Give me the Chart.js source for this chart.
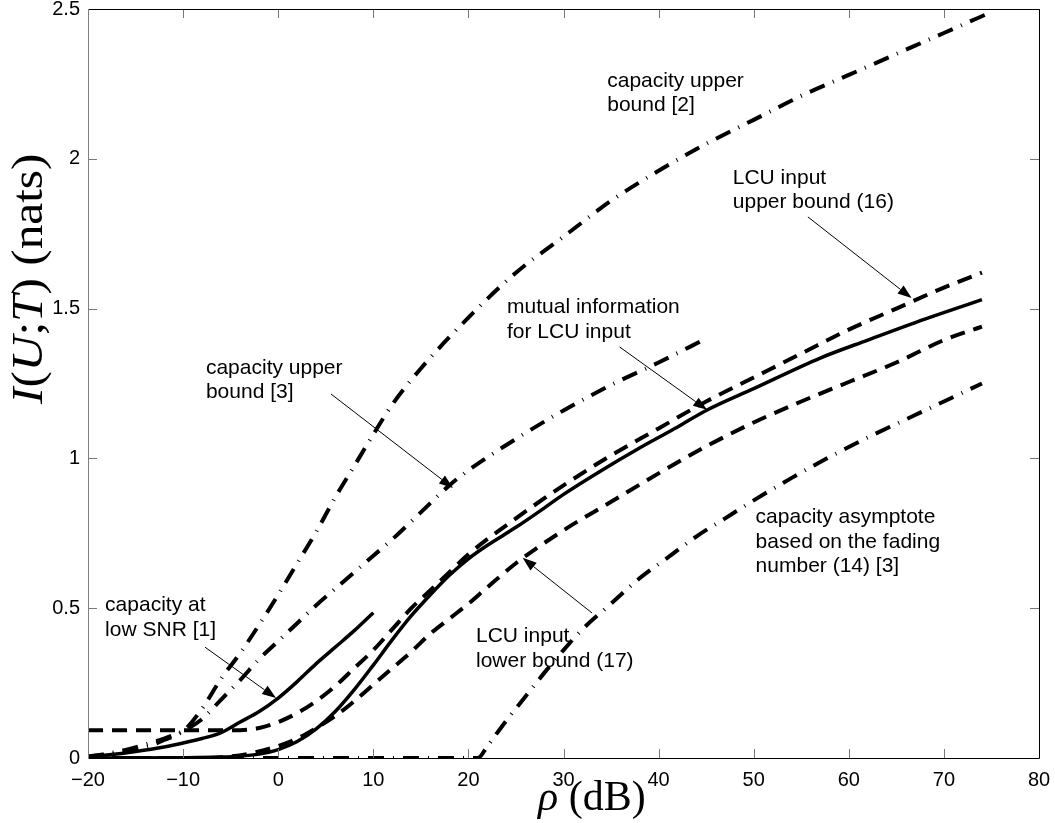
<!DOCTYPE html>
<html>
<head>
<meta charset="utf-8">
<script src="https://cdn.jsdelivr.net/npm/chart.js@4.4.0/dist/chart.umd.min.js"></script>
<style>
  html, body { margin: 0; padding: 0; background: #fff; }
  #wrap { width: 1055px; height: 823px; }
</style>
</head>
<body>
<div id="wrap"><canvas id="chart"></canvas></div>
<script>
// axis ticks
const xTicks = [-20, -10, 0, 10, 20, 30, 40, 50, 60, 70, 80];
const yTicks = [0, 0.5, 1, 1.5, 2, 2.5];

// capacity upper bound [2]
const capUb2X = [-20, -17, -14, -12, -10, -8, -6, -4, -2, 0, 2, 4, 6, 8, 10, 12, 15, 20, 25, 30, 35, 40, 45, 50, 55, 60, 65, 70, 75];
const capUb2Y = [0.005, 0.015, 0.035, 0.06, 0.09, 0.165, 0.265, 0.35, 0.445, 0.545, 0.65, 0.755, 0.87, 0.975, 1.08, 1.18, 1.30, 1.47, 1.62, 1.74, 1.86, 1.96, 2.05, 2.13, 2.21, 2.28, 2.35, 2.42, 2.49];

// capacity upper bound [3]
const capUb3X = [-20, -17, -14, -12, -10, -8, -6, -4, -2, 0, 2, 4, 6, 8, 10, 12, 15, 18, 20, 25, 30, 35, 40, 45];
const capUb3Y = [0.005, 0.02, 0.045, 0.065, 0.09, 0.13, 0.195, 0.26, 0.33, 0.39, 0.45, 0.51, 0.565, 0.62, 0.675, 0.73, 0.82, 0.91, 0.96, 1.065, 1.16, 1.245, 1.32, 1.40];

// LCU input upper bound (16)
const lcuUbX = [-20, -10, -4, -2, 0, 2, 4, 6, 8, 10, 12, 14, 16, 18, 20, 25, 30, 35, 40, 45, 50, 55, 60, 65, 70, 74];
const lcuUbY = [0.093, 0.093, 0.093, 0.10, 0.12, 0.15, 0.19, 0.24, 0.30, 0.36, 0.43, 0.50, 0.56, 0.62, 0.68, 0.80, 0.91, 1.01, 1.10, 1.19, 1.27, 1.35, 1.43, 1.50, 1.57, 1.62];

// mutual information for LCU input
const mutInfoX = [-20, -10, -6, -4, -2, 0, 2, 4, 6, 8, 10, 12, 14, 16, 18, 20, 22, 25, 28, 30, 34, 38, 42, 45, 50, 57, 62, 68, 74];
const mutInfoY = [0, 0.001, 0.003, 0.006, 0.013, 0.028, 0.055, 0.097, 0.155, 0.228, 0.31, 0.395, 0.475, 0.545, 0.61, 0.665, 0.71, 0.77, 0.835, 0.88, 0.96, 1.035, 1.105, 1.16, 1.233, 1.335, 1.395, 1.465, 1.53];

// LCU input lower bound (17)
const lcuLbX = [-20, -8, -5, -3, 0, 2, 4, 6, 8, 10, 12, 14, 16, 18, 20, 22, 25, 30, 35, 40, 45, 50, 55, 60, 65, 70, 74];
const lcuLbY = [0, 0, 0.005, 0.015, 0.04, 0.065, 0.10, 0.14, 0.19, 0.245, 0.30, 0.355, 0.415, 0.465, 0.515, 0.57, 0.65, 0.76, 0.855, 0.95, 1.04, 1.12, 1.19, 1.255, 1.32, 1.395, 1.44];

// capacity at low SNR [1]
const lowSnrX = [-20, -18, -15, -12, -10, -8, -6, -4, -2, 0, 2, 4, 6, 8, 10];
const lowSnrY = [0.004, 0.01, 0.022, 0.037, 0.05, 0.065, 0.085, 0.12, 0.155, 0.20, 0.255, 0.315, 0.37, 0.425, 0.485];

// capacity asymptote based on the fading number (14) [3]
const asymX = [-20, 21, 22, 24, 26, 28, 30, 32, 35, 38, 41, 44, 47, 50, 54, 58, 62, 66, 70, 74];
const asymY = [0, 0, 0.04, 0.125, 0.205, 0.285, 0.36, 0.43, 0.515, 0.60, 0.67, 0.74, 0.80, 0.86, 0.935, 1.005, 1.07, 1.13, 1.19, 1.25];

// text notes: lines, anchor (data coords, first baseline)
const notes = [
  { lines: ['capacity upper', 'bound [2]'], x: 34.6, y: 2.24 },
  { lines: ['LCU input', 'upper bound (16)'], x: 47.8, y: 1.916 },
  { lines: ['mutual information', 'for LCU input'], x: 24.06, y: 1.485 },
  { lines: ['capacity upper', 'bound [3]'], x: -7.6, y: 1.282 },
  { lines: ['capacity at', 'low SNR [1]'], x: -18.2, y: 0.49 },
  { lines: ['LCU input', 'lower bound (17)'], x: 20.8, y: 0.387 },
  { lines: ['capacity asymptote', 'based on the fading', 'number (14) [3]'], x: 50.2, y: 0.784 }
];

// arrows: from -> to (data coords)
const arrows = [
  [55.7, 1.806, 66.6, 1.535],
  [35.9, 1.372, 45.1, 1.162],
  [5.55, 1.215, 18.38, 0.901],
  [-7.7, 0.37, -0.23, 0.20],
  [33.0, 0.484, 25.7, 0.668]
];

const pts = (xs, ys) => xs.map((x, i) => ({ x: x, y: ys[i] }));

const DASHDOT = [16, 9, 1, 9];
const DASHED = [15, 9];

function series(label, xs, ys, dash, width) {
  return {
    label: label,
    data: pts(xs, ys),
    showLine: true,
    borderColor: '#000',
    borderWidth: width,
    borderDash: dash,
    borderCapStyle: 'butt',
    pointRadius: 0,
    cubicInterpolationMode: 'monotone',
    fill: false
  };
}

const SANS = '"Liberation Sans", Arial, Helvetica, sans-serif';
const SERIF = '"Liberation Serif", "Times New Roman", serif';

const decorPlugin = {
  id: 'decor',
  afterDatasetsDraw(chart) {
    const ctx = chart.ctx;
    const xs = chart.scales.x, ys = chart.scales.y;
    const a = chart.chartArea;
    ctx.save();

    // inward ticks
    ctx.strokeStyle = '#777';
    ctx.lineWidth = 1;
    ctx.beginPath();
    xTicks.forEach(v => {
      const px = Math.round(xs.getPixelForValue(v)) + 0.5;
      ctx.moveTo(px, a.bottom); ctx.lineTo(px, a.bottom - 9);
      ctx.moveTo(px, a.top); ctx.lineTo(px, a.top + 9);
    });
    yTicks.forEach(v => {
      const py = Math.round(ys.getPixelForValue(v)) + 0.5;
      ctx.moveTo(a.left, py); ctx.lineTo(a.left + 9, py);
      ctx.moveTo(a.right, py); ctx.lineTo(a.right - 9, py);
    });
    ctx.stroke();

    // box
    ctx.strokeStyle = '#000';
    ctx.beginPath();
    ctx.moveTo(a.left, a.top + 0.5); ctx.lineTo(a.right + 0.5, a.top + 0.5);
    ctx.lineTo(a.right + 0.5, a.bottom + 0.5); ctx.lineTo(a.left, a.bottom + 0.5);
    ctx.stroke();
    ctx.strokeStyle = '#808080';
    ctx.beginPath();
    ctx.moveTo(a.left + 0.5, a.top); ctx.lineTo(a.left + 0.5, a.bottom + 1);
    ctx.stroke();

    // notes
    ctx.fillStyle = '#000';
    ctx.font = '21px ' + SANS;
    ctx.textAlign = 'left';
    ctx.textBaseline = 'alphabetic';
    notes.forEach(n => {
      const px = xs.getPixelForValue(n.x), py = ys.getPixelForValue(n.y);
      n.lines.forEach((t, i) => ctx.fillText(t, px, py + i * 24.5));
    });

    // arrows
    ctx.strokeStyle = '#000';
    ctx.lineWidth = 1;
    arrows.forEach(r => {
      const x1 = xs.getPixelForValue(r[0]), y1 = ys.getPixelForValue(r[1]);
      const x2 = xs.getPixelForValue(r[2]), y2 = ys.getPixelForValue(r[3]);
      const ang = Math.atan2(y2 - y1, x2 - x1);
      const L = 14, W = 5;
      const bx = x2 - L * Math.cos(ang), by = y2 - L * Math.sin(ang);
      ctx.beginPath();
      ctx.moveTo(x1, y1); ctx.lineTo(bx, by);
      ctx.stroke();
      ctx.beginPath();
      ctx.moveTo(x2, y2);
      ctx.lineTo(bx + W * Math.sin(ang), by - W * Math.cos(ang));
      ctx.lineTo(bx - W * Math.sin(ang), by + W * Math.cos(ang));
      ctx.closePath();
      ctx.fill();
    });

    // axis titles with mixed italic / upright pieces
    const drawPieces = (pieces, size) => {
      let off = 0;
      pieces.forEach(p => {
        ctx.font = (p[1] ? 'italic ' : '') + size + 'px ' + SERIF;
        ctx.fillText(p[0], off, 0);
        off += ctx.measureText(p[0]).width;
      });
    };
    ctx.save();
    ctx.translate(538, 810);
    drawPieces([['\u03C1', true], [' (dB)', false]], 42);
    ctx.restore();

    ctx.save();
    ctx.translate(42, 404);
    ctx.rotate(-Math.PI / 2);
    ctx.scale(1.12, 1);
    drawPieces([['I', true], ['(', false], ['U', true], [';', false], ['T', true], [')', false], [' (nats)', false]], 44);
    ctx.restore();

    ctx.restore();
  }
};

new Chart(document.getElementById('chart'), {
  type: 'scatter',
  data: {
    datasets: [
      series('capacity upper bound [2]', capUb2X, capUb2Y, DASHDOT, 4),
      series('capacity upper bound [3]', capUb3X, capUb3Y, DASHDOT, 4),
      series('LCU input upper bound (16)', lcuUbX, lcuUbY, DASHED, 4),
      series('mutual information for LCU input', mutInfoX, mutInfoY, [], 3.5),
      series('LCU input lower bound (17)', lcuLbX, lcuLbY, DASHED, 4),
      series('capacity at low SNR [1]', lowSnrX, lowSnrY, [], 3.5),
      series('capacity asymptote (14) [3]', asymX, asymY, DASHDOT, 4)
    ]
  },
  options: {
    responsive: true,
    maintainAspectRatio: false,
    animation: false,
    layout: { padding: { top: 9, right: 16, left: 0, bottom: 0 } },
    plugins: { legend: { display: false }, tooltip: { enabled: false } },
    scales: {
      x: {
        type: 'linear', min: -20, max: 80,
        afterBuildTicks: s => { s.ticks = xTicks.map(v => ({ value: v })); },
        afterFit: s => { s.height = 65; s.paddingLeft = 0; s.paddingRight = 0; },
        grid: { display: false },
        border: { display: false },
        ticks: {
          color: '#000', padding: 2,
          font: { family: SANS, size: 20 },
          callback: v => String(v).replace('-', '\u2212')
        }
      },
      y: {
        type: 'linear', min: 0, max: 2.5,
        afterBuildTicks: s => { s.ticks = yTicks.map(v => ({ value: v })); },
        afterFit: s => { s.width = 88; s.paddingTop = 0; s.paddingBottom = 0; },
        grid: { display: false },
        border: { display: false },
        ticks: {
          color: '#000', padding: 0,
          font: { family: SANS, size: 20 },
          callback: v => String(v)
        }
      }
    }
  },
  plugins: [decorPlugin]
});
</script>
</body>
</html>
